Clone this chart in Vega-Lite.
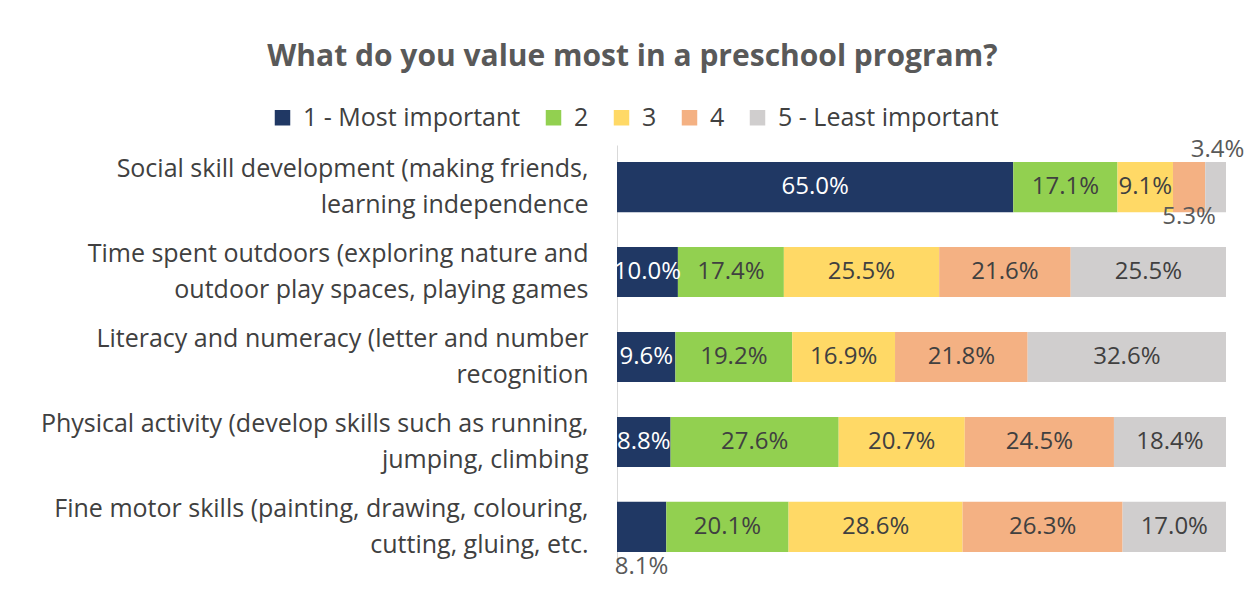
{
  "$schema": "https://vega.github.io/schema/vega-lite/v6.json",
  "width": 609,
  "height": 424,
  "autosize": {"type": "none"},
  "padding": {"left": 617, "top": 145, "right": 34, "bottom": 28},
  "background": "white",
  "config": {"view": {"stroke": null}, "font": "Open Sans"},
  "title": {
    "text": "What do you value most in a preschool program?",
    "font": "Open Sans",
    "fontSize": 30,
    "fontWeight": "bold",
    "color": "#595959",
    "anchor": "middle",
    "frame": "bounds",
    "offset": 33,
    "dx": -10
  },
  "data": {
    "values": [
      {"item": "Social skill development (making friends,\nlearning independence", "rank": "1 - Most important", "pct": 65.0},
      {"item": "Social skill development (making friends,\nlearning independence", "rank": "2", "pct": 17.1},
      {"item": "Social skill development (making friends,\nlearning independence", "rank": "3", "pct": 9.1},
      {"item": "Social skill development (making friends,\nlearning independence", "rank": "4", "pct": 5.3},
      {"item": "Social skill development (making friends,\nlearning independence", "rank": "5 - Least important", "pct": 3.4},
      {"item": "Time spent outdoors (exploring nature and\noutdoor play spaces, playing games", "rank": "1 - Most important", "pct": 10.0},
      {"item": "Time spent outdoors (exploring nature and\noutdoor play spaces, playing games", "rank": "2", "pct": 17.4},
      {"item": "Time spent outdoors (exploring nature and\noutdoor play spaces, playing games", "rank": "3", "pct": 25.5},
      {"item": "Time spent outdoors (exploring nature and\noutdoor play spaces, playing games", "rank": "4", "pct": 21.6},
      {"item": "Time spent outdoors (exploring nature and\noutdoor play spaces, playing games", "rank": "5 - Least important", "pct": 25.5},
      {"item": "Literacy and numeracy (letter and number\nrecognition", "rank": "1 - Most important", "pct": 9.6},
      {"item": "Literacy and numeracy (letter and number\nrecognition", "rank": "2", "pct": 19.2},
      {"item": "Literacy and numeracy (letter and number\nrecognition", "rank": "3", "pct": 16.9},
      {"item": "Literacy and numeracy (letter and number\nrecognition", "rank": "4", "pct": 21.8},
      {"item": "Literacy and numeracy (letter and number\nrecognition", "rank": "5 - Least important", "pct": 32.6},
      {"item": "Physical activity (develop skills such as running,\njumping, climbing", "rank": "1 - Most important", "pct": 8.8},
      {"item": "Physical activity (develop skills such as running,\njumping, climbing", "rank": "2", "pct": 27.6},
      {"item": "Physical activity (develop skills such as running,\njumping, climbing", "rank": "3", "pct": 20.7},
      {"item": "Physical activity (develop skills such as running,\njumping, climbing", "rank": "4", "pct": 24.5},
      {"item": "Physical activity (develop skills such as running,\njumping, climbing", "rank": "5 - Least important", "pct": 18.4},
      {"item": "Fine motor skills (painting, drawing, colouring,\ncutting, gluing, etc.", "rank": "1 - Most important", "pct": 8.1},
      {"item": "Fine motor skills (painting, drawing, colouring,\ncutting, gluing, etc.", "rank": "2", "pct": 20.1},
      {"item": "Fine motor skills (painting, drawing, colouring,\ncutting, gluing, etc.", "rank": "3", "pct": 28.6},
      {"item": "Fine motor skills (painting, drawing, colouring,\ncutting, gluing, etc.", "rank": "4", "pct": 26.3},
      {"item": "Fine motor skills (painting, drawing, colouring,\ncutting, gluing, etc.", "rank": "5 - Least important", "pct": 17.0}
    ]
  },
  "transform": [
    {"stack": "pct", "groupby": ["item"], "sort": [{"field": "rank", "order": "ascending"}], "as": ["x0", "x1"], "offset": "normalize"},
    {"calculate": "(datum.x0 + datum.x1) / 2", "as": "mid"},
    {"calculate": "format(datum.pct, '.1f') + '%'", "as": "label"}
  ],
  "encoding": {
    "y": {
      "field": "item",
      "type": "nominal",
      "sort": null,
      "scale": {"paddingInner": 0.41, "paddingOuter": 0.2},
      "axis": {
        "title": null,
        "ticks": false,
        "domain": true,
        "domainColor": "#D9D9D9",
        "domainWidth": 1,
        "labelExpr": "split(datum.value, '\\n')",
        "labelFont": "Open Sans",
        "labelFontSize": 25,
        "labelColor": "#404040",
        "labelLineHeight": 36,
        "labelPadding": 29,
        "labelOffset": -18,
        "labelAlign": "right",
        "labelBaseline": "middle",
        "labelLimit": 700
      }
    }
  },
  "layer": [
    {
      "mark": {"type": "bar", "stroke": null},
      "encoding": {
        "x": {"field": "x0", "type": "quantitative", "scale": {"domain": [0, 1]}, "axis": null},
        "x2": {"field": "x1"},
        "color": {
          "field": "rank",
          "type": "nominal",
          "scale": {
            "domain": ["1 - Most important", "2", "3", "4", "5 - Least important"],
            "range": ["#203864", "#92D050", "#FFD966", "#F4B183", "#D0CECE"]
          },
          "legend": {
            "title": null,
            "orient": "none",
            "legendX": -347,
            "legendY": -40,
            "direction": "horizontal",
            "symbolType": "square",
            "symbolSize": 240,
            "symbolStrokeWidth": 0,
            "labelFont": "Open Sans",
            "labelFontSize": 25,
            "labelColor": "#404040",
            "labelOffset": 8,
            "columnPadding": 20,
            "labelLimit": 400
          }
        }
      }
    },
    {
      "transform": [{"filter": "datum.pct != 3.4 && datum.pct != 5.3 && datum.pct != 8.1"}],
      "mark": {"type": "text", "font": "Open Sans", "fontSize": 24, "align": "center", "baseline": "middle"},
      "encoding": {
        "x": {"field": "mid", "type": "quantitative"},
        "text": {"field": "label"},
        "color": {"condition": {"test": "datum.rank == '1 - Most important'", "value": "#FFFFFF"}, "value": "#404040"}
      }
    },
    {
      "transform": [{"filter": "datum.pct == 3.4"}],
      "mark": {"type": "text", "font": "Open Sans", "fontSize": 24, "align": "center", "baseline": "middle", "dx": 2, "dy": -37, "color": "#595959"},
      "encoding": {
        "x": {"field": "mid", "type": "quantitative"},
        "text": {"field": "label"}
      }
    },
    {
      "transform": [{"filter": "datum.pct == 5.3"}],
      "mark": {"type": "text", "font": "Open Sans", "fontSize": 24, "align": "center", "baseline": "middle", "dx": 0, "dy": 30, "color": "#595959"},
      "encoding": {
        "x": {"field": "mid", "type": "quantitative"},
        "text": {"field": "label"}
      }
    },
    {
      "transform": [{"filter": "datum.pct == 8.1"}],
      "mark": {"type": "text", "font": "Open Sans", "fontSize": 24, "align": "center", "baseline": "middle", "dx": 0, "dy": 40, "color": "#595959"},
      "encoding": {
        "x": {"field": "mid", "type": "quantitative"},
        "text": {"field": "label"}
      }
    }
  ]
}
